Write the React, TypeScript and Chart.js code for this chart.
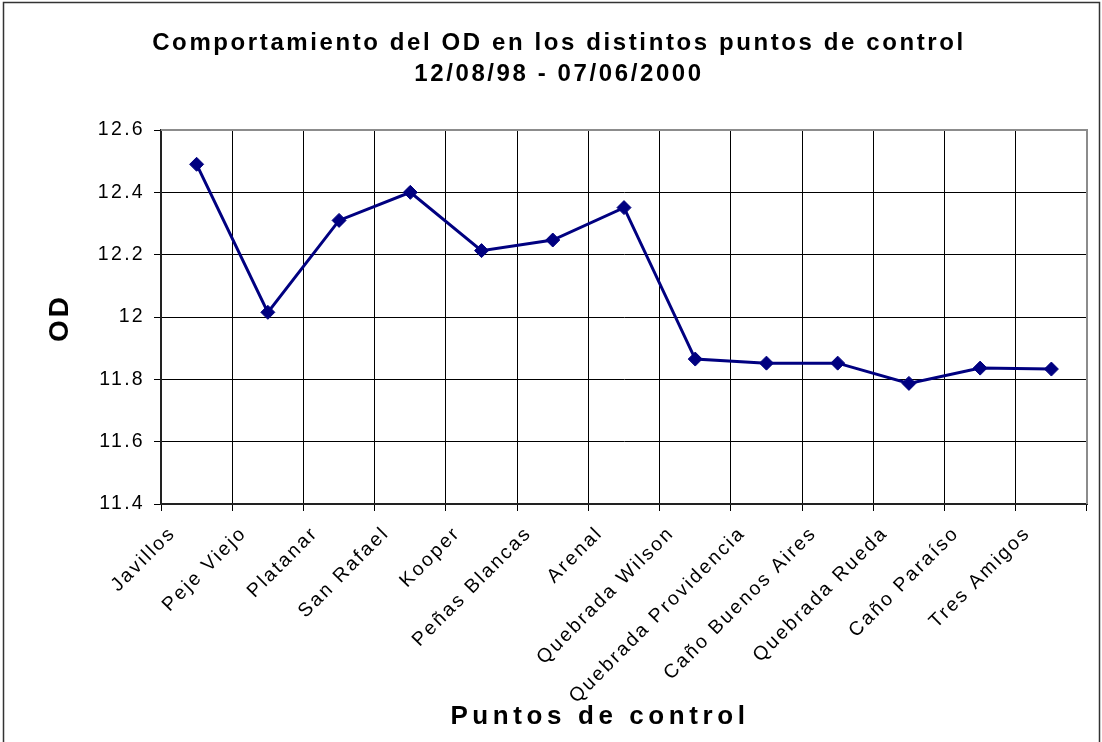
import React, { useEffect, useRef } from "react";
import { Chart, registerables } from "chart.js";

Chart.register(...registerables);

const categories: string[] = [
  "Javillos",
  "Peje Viejo",
  "Platanar",
  "San Rafael",
  "Kooper",
  "Peñas Blancas",
  "Arenal",
  "Quebrada Wilson",
  "Quebrada Providencia",
  "Caño Buenos Aires",
  "Quebrada Rueda",
  "Caño Paraíso",
  "Tres Amigos",
];

const odValues: number[] = [
  12.49, 12.015, 12.31, 12.4, 12.213, 12.247, 12.351, 11.865, 11.852, 11.852,
  11.787, 11.836, 11.833,
];

const titleLines: string[] = [
  "Comportamiento del OD en los distintos puntos de control",
  "12/08/98 - 07/06/2000",
];
const xAxisTitle = "Puntos de control";
const yAxisTitle = "OD";

const yMin = 11.4;
const yMax = 12.6;
const yStep = 0.2;

const FONT = "'Liberation Sans', Arial, sans-serif";
const TICK_LS = "2.3px";

const PLOT_LEFT = 161;
const PLOT_TOP = 130;
const PLOT_RIGHT = 1087;
const PLOT_BOTTOM = 504;
const W = 1102;
const H = 742;

const spacingPlugin = {
  id: "letterSpacing",
  beforeUpdate(chart: any) {
    chart.ctx.letterSpacing = TICK_LS;
  },
  beforeLayout(chart: any) {
    chart.ctx.letterSpacing = TICK_LS;
  },
  beforeDraw(chart: any) {
    chart.ctx.letterSpacing = TICK_LS;
  },
};

const plotBorderPlugin = {
  id: "plotBorder",
  beforeDatasetsDraw(chart: any) {
    const { ctx, chartArea } = chart;
    ctx.save();
    ctx.strokeStyle = "#8c8c8c";
    ctx.lineWidth = 2;
    ctx.beginPath();
    ctx.moveTo(chartArea.left, chartArea.top);
    ctx.lineTo(chartArea.right, chartArea.top);
    ctx.lineTo(chartArea.right, chartArea.bottom);
    ctx.stroke();
    ctx.restore();
  },
};

const textPlugin = {
  id: "chartTexts",
  afterDraw(chart: any) {
    const { ctx } = chart;
    ctx.save();
    ctx.fillStyle = "#000";
    ctx.textAlign = "center";
    ctx.textBaseline = "middle";
    ctx.letterSpacing = "2.6px";
    ctx.font = `bold 24px ${FONT}`;
    ctx.fillText(titleLines[0], 559, 43);
    ctx.fillText(titleLines[1], 559, 74);

    ctx.letterSpacing = "4.6px";
    ctx.font = `bold 26px ${FONT}`;
    ctx.fillText(xAxisTitle, 600, 717);

    ctx.letterSpacing = "3px";
    ctx.font = `bold 28px ${FONT}`;
    ctx.translate(60, 318);
    ctx.rotate(-Math.PI / 2);
    ctx.fillText(yAxisTitle, 0, 0);
    ctx.restore();

    // outer chart frame
    ctx.save();
    ctx.strokeStyle = "#333";
    ctx.lineWidth = 1.5;
    ctx.strokeRect(3.5, 2.5, W - 6, H + 20);
    ctx.restore();
  },
};

export default function App() {
  const canvasRef = useRef<HTMLCanvasElement | null>(null);

  useEffect(() => {
    document.body.style.margin = "0";
    const canvas = canvasRef.current;
    if (!canvas) return;

    const chart = new Chart(canvas, {
      type: "line",
      data: {
        labels: categories,
        datasets: [
          {
            label: "OD",
            data: odValues,
            borderColor: "#000080",
            backgroundColor: "#000080",
            borderWidth: 3,
            pointStyle: "rectRot",
            pointRadius: 7,
            pointBorderWidth: 1,
            pointBackgroundColor: "#000080",
            pointBorderColor: "#000080",
            tension: 0,
            fill: false,
          },
        ],
      },
      options: {
        animation: false,
        responsive: false,
        devicePixelRatio: 1,
        layout: {
          padding: {
            top: PLOT_TOP,
            left: 0,
            right: W - PLOT_RIGHT,
            bottom: 0,
          },
        },
        plugins: {
          legend: { display: false },
          title: { display: false },
          tooltip: { enabled: false },
        },
        scales: {
          x: {
            type: "category",
            offset: true,
            grid: {
              offset: true,
              display: true,
              color: "#000",
              lineWidth: 1,
              drawTicks: true,
              tickLength: 7,
              tickColor: "#000",
            },
            border: { display: true, color: "#222", width: 2 },
            ticks: {
              autoSkip: false,
              maxRotation: 45,
              minRotation: 45,
              color: "#000",
              padding: 11,
              labelOffset: -24,
              font: { family: FONT, size: 19.5, weight: "normal" },
            },
            afterFit(scale: any) {
              scale.height = H - PLOT_BOTTOM;
            },
          },
          y: {
            type: "linear",
            min: yMin,
            max: yMax,
            grid: {
              color: "#000",
              lineWidth: 1,
              drawTicks: true,
              tickLength: 7,
              tickColor: "#000",
            },
            border: { display: true, color: "#222", width: 2 },
            ticks: {
              stepSize: yStep,
              color: "#000",
              padding: 9,
              font: { family: FONT, size: 19.5, weight: "normal" },
              callback: (v: any) => String(Number(Number(v).toFixed(2))),
            },
            afterFit(scale: any) {
              scale.width = PLOT_LEFT;
            },
          },
        },
      },
      plugins: [spacingPlugin, plotBorderPlugin, textPlugin],
    });

    return () => {
      chart.destroy();
    };
  }, []);

  return (
    <div style={{ width: W, height: H, position: "relative", background: "#fff" }}>
      <canvas
        ref={canvasRef}
        width={W}
        height={H}
        style={{ display: "block", width: W, height: H }}
      />
    </div>
  );
}
